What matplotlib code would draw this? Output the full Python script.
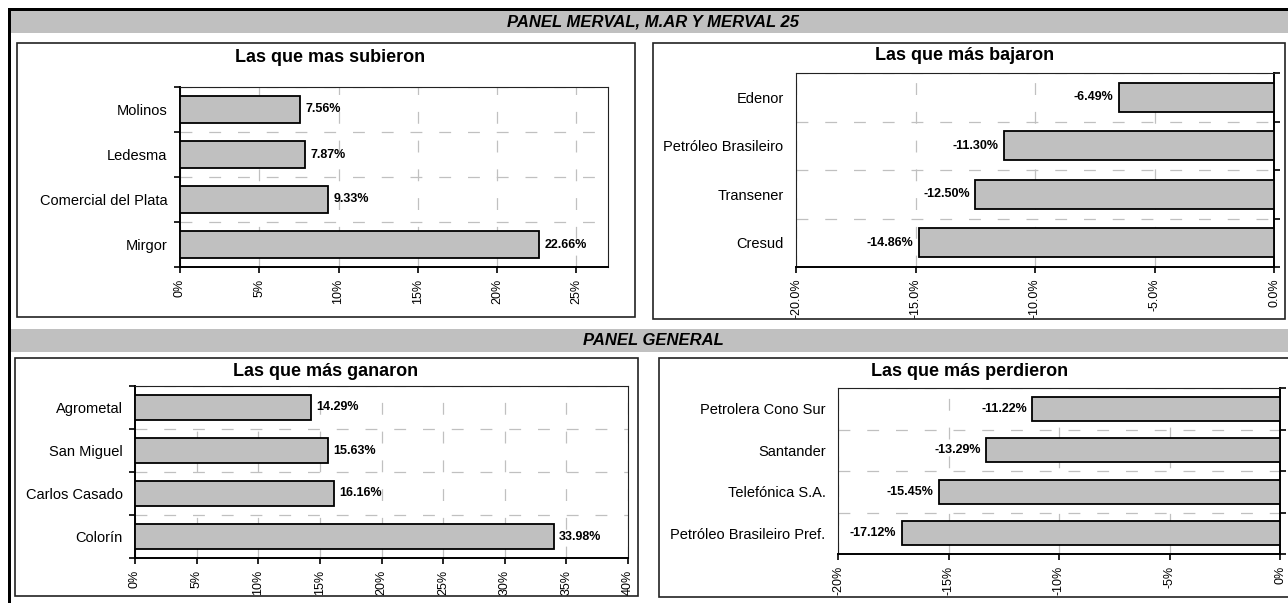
import matplotlib.pyplot as plt
import matplotlib.ticker as mticker
from matplotlib.patches import Rectangle

# Data
sub_names = ['Molinos', 'Ledesma', 'Comercial del Plata', 'Mirgor']
sub_vals = [7.56, 7.87, 9.33, 22.66]

baj_names = ['Edenor', 'Petróleo Brasileiro', 'Transener', 'Cresud']
baj_vals = [-6.49, -11.30, -12.50, -14.86]

gan_names = ['Agrometal', 'San Miguel', 'Carlos Casado', 'Colorín']
gan_vals = [14.29, 15.63, 16.16, 33.98]

per_names = ['Petrolera Cono Sur', 'Santander', 'Telefónica S.A.', 'Petróleo Brasileiro Pref.']
per_vals = [-11.22, -13.29, -15.45, -17.12]

plt.rcParams['font.family'] = ['Liberation Sans', 'DejaVu Sans']
plt.rcParams['axes.unicode_minus'] = False

W, H = 1288, 603
fig = plt.figure(figsize=(W / 100, H / 100), dpi=100)


def rect(x0, y0, x1, y1):
    # pixel box -> figure fraction
    return [x0 / W, 1 - y1 / H, (x1 - x0) / W, (y1 - y0) / H]


def fig_box(x0, y0, x1, y1, **kw):
    r = rect(x0, y0, x1, y1)
    fig.patches.append(Rectangle((r[0], r[1]), r[2], r[3], transform=fig.transFigure,
                                 zorder=-1, **kw))


# frame lines and section bands
fig_box(8, 8, 1288, 11, facecolor='black', edgecolor='none')
fig_box(8, 8, 11, 603, facecolor='black', edgecolor='none')
fig_box(11, 11, 1288, 33, facecolor='#c0c0c0', edgecolor='none')
fig_box(11, 329, 1288, 352, facecolor='#c0c0c0', edgecolor='none')
fig.text(653 / W, 1 - 22 / H, 'PANEL MERVAL, M.AR Y MERVAL 25', ha='center', va='center',
         fontsize=12, fontweight='bold', fontstyle='italic')
fig.text(653 / W, 1 - 340.5 / H, 'PANEL GENERAL', ha='center', va='center',
         fontsize=12, fontweight='bold', fontstyle='italic')

# chart boxes
for b in [(17, 43, 635, 317), (653, 43, 1285, 319), (15, 358, 638, 596), (659, 358, 1295, 597)]:
    fig_box(*b, facecolor='white', edgecolor='#222222', linewidth=1.2)

grid_style = dict(color='#c0c0c0', linewidth=0.9, linestyle=(0, (9.5, 13.5)))


def bar_chart(area, names, vals, xlim, step, decimals, title, title_xy):
    ax = fig.add_axes(rect(*area))
    pos = list(range(len(names)))
    ax.barh(pos, vals, height=0.59, color='#c0c0c0', edgecolor='black', linewidth=1.3, zorder=3)
    ax.set_xlim(*xlim)
    ax.set_ylim(len(names) - 0.5, -0.5)
    neg = xlim[1] <= 0

    ax.set_yticks(pos)
    ax.set_yticklabels(names, fontsize=10.5)
    ax.set_yticks([p - 0.5 for p in pos] + [len(names) - 0.5], minor=True)
    ax.tick_params(axis='y', which='major', length=0, pad=9)
    if neg:
        ax.tick_params(axis='y', which='minor', left=False, right=True, direction='out',
                       length=4, width=1.2)
    else:
        ax.tick_params(axis='y', which='minor', direction='out', length=4, width=1.2)

    ax.xaxis.set_major_locator(mticker.MultipleLocator(step))
    ax.xaxis.set_major_formatter(mticker.PercentFormatter(xmax=100, decimals=decimals))
    ax.tick_params(axis='x', which='major', direction='out', length=4, width=1.2,
                   labelsize=9, labelrotation=90, pad=4.5)

    ax.set_axisbelow(True)
    ax.grid(True, axis='x', which='major', **grid_style)
    ax.grid(True, axis='y', which='minor', **grid_style)

    for s in ax.spines.values():
        s.set_linewidth(0.8)
        s.set_color('#222222')
    ax.spines['bottom'].set_linewidth(1.4)
    ax.spines['bottom'].set_color('black')
    axis_side = 'right' if neg else 'left'
    ax.spines[axis_side].set_linewidth(1.4)
    ax.spines[axis_side].set_color('black')

    for p, v in zip(pos, vals):
        off = -3.8 if v < 0 else 3.8
        ax.annotate(f'{v:.2f}%', (v, p), xytext=(off, 0), textcoords='offset points',
                    ha='right' if v < 0 else 'left', va='center', fontsize=9, fontweight='bold',
                    zorder=4)

    fig.text(title_xy[0] / W, 1 - title_xy[1] / H, title, ha='center', va='center',
             fontsize=13, fontweight='bold')
    return ax


bar_chart((180, 87, 608, 267), sub_names, sub_vals, (0, 27), 5, 0,
          'Las que mas subieron', (330, 57))
bar_chart((796, 73, 1274, 267), baj_names, baj_vals, (-20, 0), 5, 1,
          'Las que más bajaron', (965, 55))
bar_chart((135, 386, 628, 558), gan_names, gan_vals, (0, 40), 5, 0,
          'Las que más ganaron', (326, 371))
bar_chart((838, 388, 1280, 554), per_names, per_vals, (-20, 0), 5, 0,
          'Las que más perdieron', (970, 372))

fig.savefig('out.png', dpi=100)
